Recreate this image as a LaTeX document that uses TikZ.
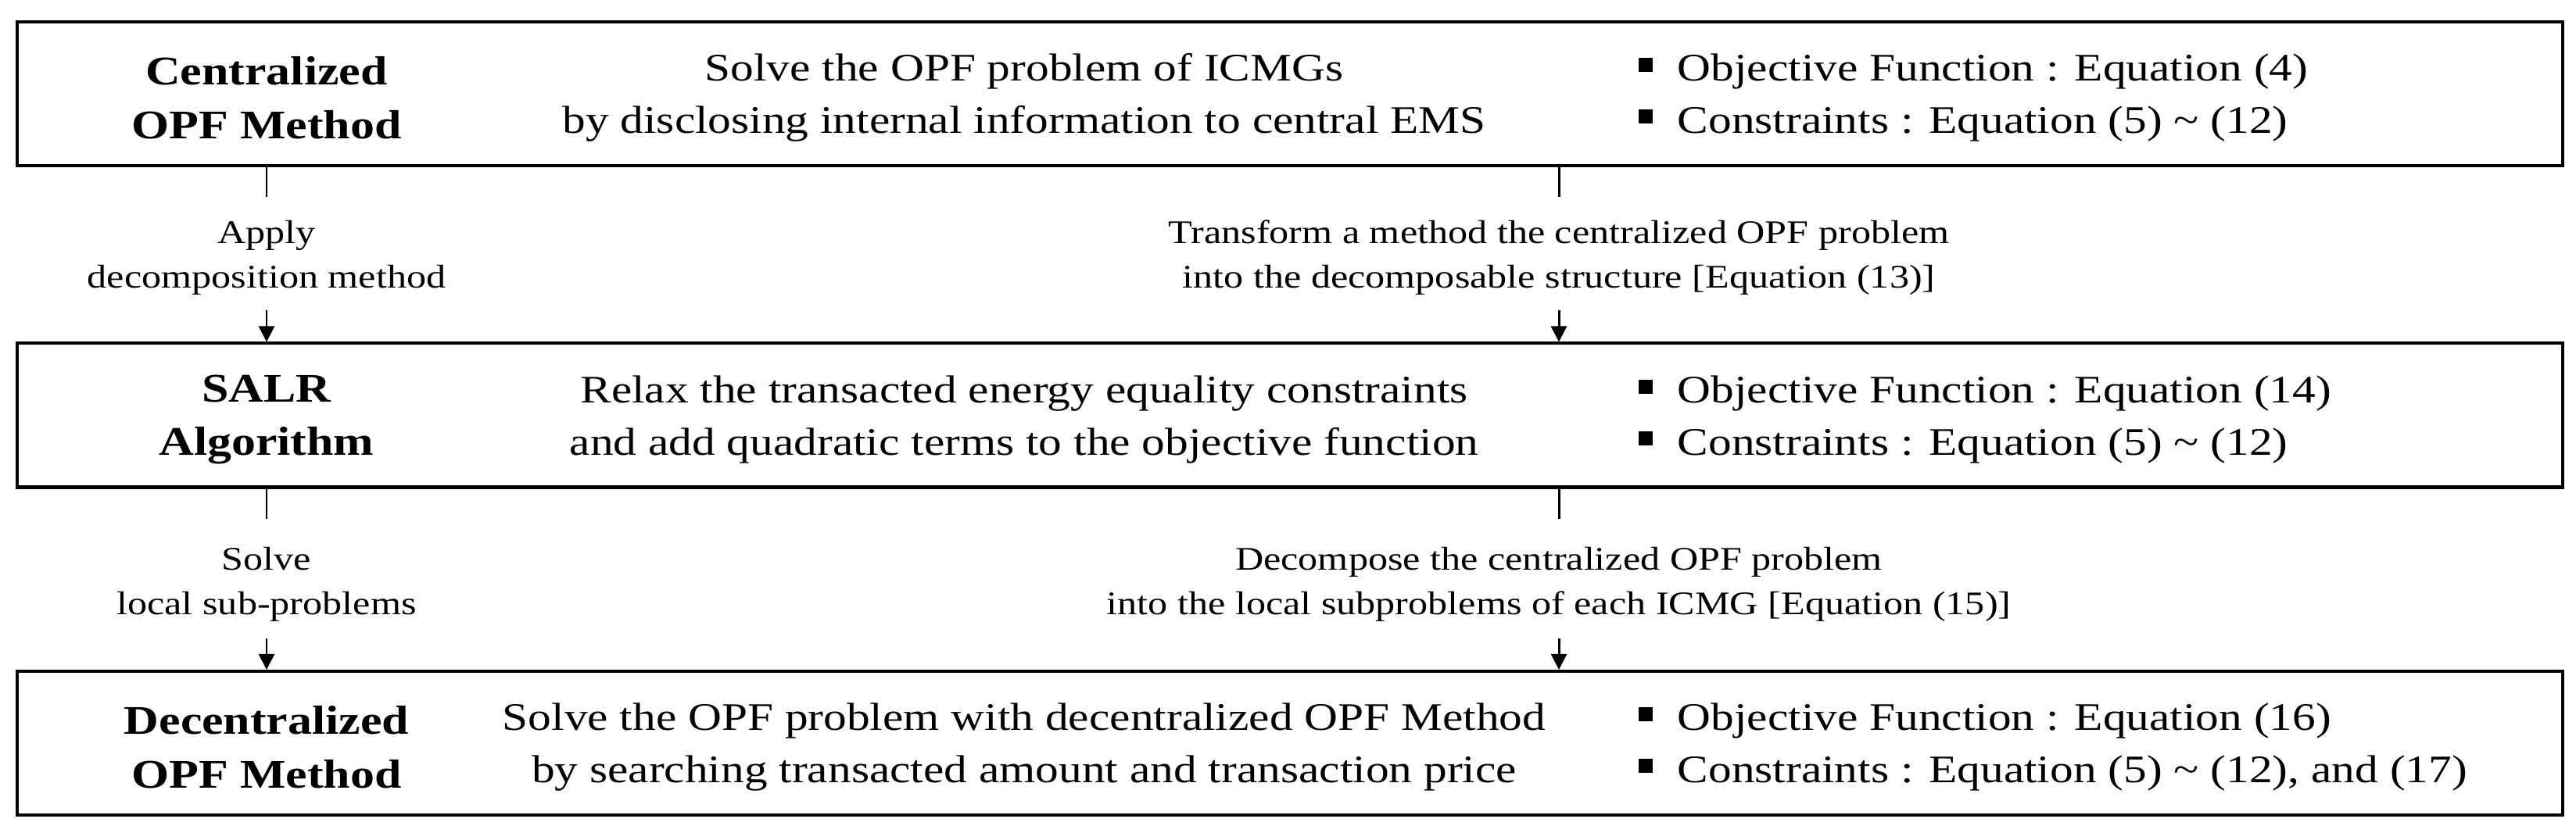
\documentclass[tikz,border=0pt]{standalone}
\usepackage{fontspec}
\setmainfont{Liberation Serif}[FakeStretch=1.19]
\usetikzlibrary{arrows.meta,positioning}
\newcommand{\sqbullet}{\rule[0.12cm]{0.18cm}{0.18cm}\hspace{0.32cm}}
\begin{document}
\begin{tikzpicture}[
  stagebox/.style={draw,line width=1.15pt,minimum width=32.56cm,minimum height=1.84cm,inner sep=0pt},
  headtxt/.style={align=center,font=\fontsize{14.8}{19.6}\selectfont\bfseries,inner sep=0pt},
  bodytxt/.style={align=center,font=\fontsize{14.2}{19}\selectfont,inner sep=0pt},
  listtxt/.style={align=left,anchor=west,font=\fontsize{14.2}{19}\selectfont,inner sep=0pt},
  steptxt/.style={align=center,font=\fontsize{12}{16.2}\selectfont,inner sep=0pt},
  link/.style={line width=0.85pt},
  flow/.style={line width=0.85pt,-{Triangle[width=0.2cm,length=0.2cm]}}]
\useasboundingbox (0,0) rectangle (32.95,10.66);
% centralized method
\node[stagebox] (cen) at (16.50,9.46) {};
\node[headtxt] (cenhead) at (3.41,9.41) {Centralized\\OPF Method};
\node[bodytxt] (cenbody) at (13.10,9.41) {Solve the OPF problem of ICMGs\\by disclosing internal information to central EMS};
\node[listtxt] (cenlist) at (20.95,9.41) {\sqbullet Objective Function : Equation (4)\\\sqbullet Constraints : Equation (5) \textasciitilde{} (12)};
%
% SALR algorithm
\node[stagebox] (salr) at (16.50,5.345) {};
\node[headtxt] (salrhead) at (3.41,5.29) {SALR\\Algorithm};
\node[bodytxt] (salrbody) at (13.10,5.29) {Relax the transacted energy equality constraints\\and add quadratic terms to the objective function};
\node[listtxt] (salrlist) at (20.95,5.29) {\sqbullet Objective Function : Equation (14)\\\sqbullet Constraints : Equation (5) \textasciitilde{} (12)};
%
% decentralized method
\node[stagebox] (dec) at (16.50,1.15) {};
\node[headtxt] (dechead) at (3.41,1.10) {Decentralized\\OPF Method};
\node[bodytxt] (decbody) at (13.10,1.10) {Solve the OPF problem with decentralized OPF Method\\by searching transacted amount and transaction price};
\node[listtxt] (declist) at (20.95,1.10) {\sqbullet Objective Function : Equation (16)\\\sqbullet Constraints : Equation (5) \textasciitilde{} (12), and (17)};
%
% steps between the stages
\node[steptxt] (apply) at (3.41,7.36) {Apply\\decomposition method};
\node[steptxt] (transform) at (19.94,7.36) {Transform a method the centralized OPF problem\\into the decomposable structure [Equation (13)]};
\node[steptxt] (solve) at (3.41,3.18) {Solve\\local sub-problems};
\node[steptxt] (decomp) at (19.94,3.18) {Decompose the centralized OPF problem\\into the local subproblems of each ICMG [Equation (15)]};
%
\foreach \lbl in {apply,transform}{
  \draw[link] (cen.south -| \lbl) -- ([yshift=-0.38cm]cen.south -| \lbl);
  \draw[flow] ([yshift=0.4cm]salr.north -| \lbl) -- (salr.north -| \lbl);
}
\foreach \lbl in {solve,decomp}{
  \draw[link] (salr.south -| \lbl) -- ([yshift=-0.38cm]salr.south -| \lbl);
  \draw[flow] ([yshift=0.4cm]dec.north -| \lbl) -- (dec.north -| \lbl);
}
\end{tikzpicture}
\end{document}
